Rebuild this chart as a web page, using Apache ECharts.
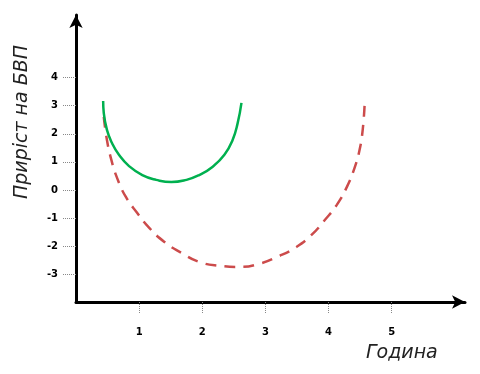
<!DOCTYPE html>
<html>
<head>
<meta charset="utf-8">
<script src="https://cdn.jsdelivr.net/npm/echarts@6/dist/echarts.min.js"></script>
<style>html,body{margin:0;padding:0;background:#fff;}#c{width:480px;height:374px;}</style>
</head>
<body>
<div id="c"></div>
<script>
// Data
var xTicks = [1, 2, 3, 4, 5];
var yTicks = [-3, -2, -1, 0, 1, 2, 3, 4];
var greenCurve = [
  [0.43, 3.17], [0.44, 2.74], [0.49, 2.14], [0.57, 1.67], [0.68, 1.25],
  [0.84, 0.85], [1.05, 0.53], [1.27, 0.36], [1.51, 0.28], [1.75, 0.36],
  [1.95, 0.53], [2.16, 0.82], [2.35, 1.25], [2.48, 1.78], [2.56, 2.38],
  [2.62, 3.10]
];
var redCurve = [
  [0.44, 2.60], [0.49, 1.78], [0.56, 1.07], [0.65, 0.43], [0.79, -0.25],
  [0.97, -0.82], [1.16, -1.35], [1.40, -1.85], [1.67, -2.24], [1.95, -2.56],
  [2.27, -2.70], [2.59, -2.74], [2.90, -2.63], [3.19, -2.38], [3.49, -2.03],
  [3.73, -1.60], [3.94, -1.07], [4.13, -0.53], [4.29, 0.11], [4.41, 0.78],
  [4.49, 1.42], [4.54, 2.14], [4.57, 3.02]
];
var xTitle = 'Година';
var yTitle = 'Приріст на БВП';

var chart = echarts.init(document.getElementById('c'));
function axisLine() {
  return {
    show: true,
    onZero: false,
    symbol: ['none', 'arrow'],
    symbolSize: [10, 13],
    lineStyle: { color: '#000', width: 3 }
  };
}
chart.setOption({
  animation: false,
  grid: { left: 76, right: 15, top: 15, bottom: 72 },
  xAxis: {
    type: 'value', min: 0, max: 6.16,
    axisLine: axisLine(),
    splitLine: { show: false },
    axisTick: { show: true, customValues: xTicks, length: 11, lineStyle: { color: '#888', type: 'dotted', width: 1 } },
    axisLabel: { customValues: xTicks, margin: 25, color: '#000', fontSize: 10, fontWeight: 'bold', fontFamily: 'DejaVu Sans' }
  },
  yAxis: {
    type: 'value', min: -3.99, max: 6.23,
    axisLine: axisLine(),
    splitLine: { show: false },
    axisTick: { show: true, customValues: yTicks, length: 14, lineStyle: { color: '#888', type: 'dotted', width: 1 } },
    axisLabel: { customValues: yTicks, margin: 18, color: '#000', fontSize: 10, fontWeight: 'bold', fontFamily: 'DejaVu Sans' }
  },
  graphic: [
    { type: 'text', left: 366, top: 344, style: { text: xTitle, fontSize: 19, fontStyle: 'italic', fontFamily: 'DejaVu Sans', fill: '#222' } },
    { type: 'text', x: 22, y: 122, rotation: Math.PI / 2,
      style: { text: yTitle, fontSize: 19, fontStyle: 'italic', fontFamily: 'DejaVu Sans', fill: '#222', align: 'center', verticalAlign: 'middle' } }
  ],
  series: [
    { type: 'line', data: redCurve, smooth: true, symbol: 'none',
      lineStyle: { color: '#cc4b4b', width: 2.5, type: [11, 8] } },
    { type: 'line', data: greenCurve, smooth: true, symbol: 'none',
      lineStyle: { color: '#00b04f', width: 2.5 } }
  ]
});
</script>
</body>
</html>
